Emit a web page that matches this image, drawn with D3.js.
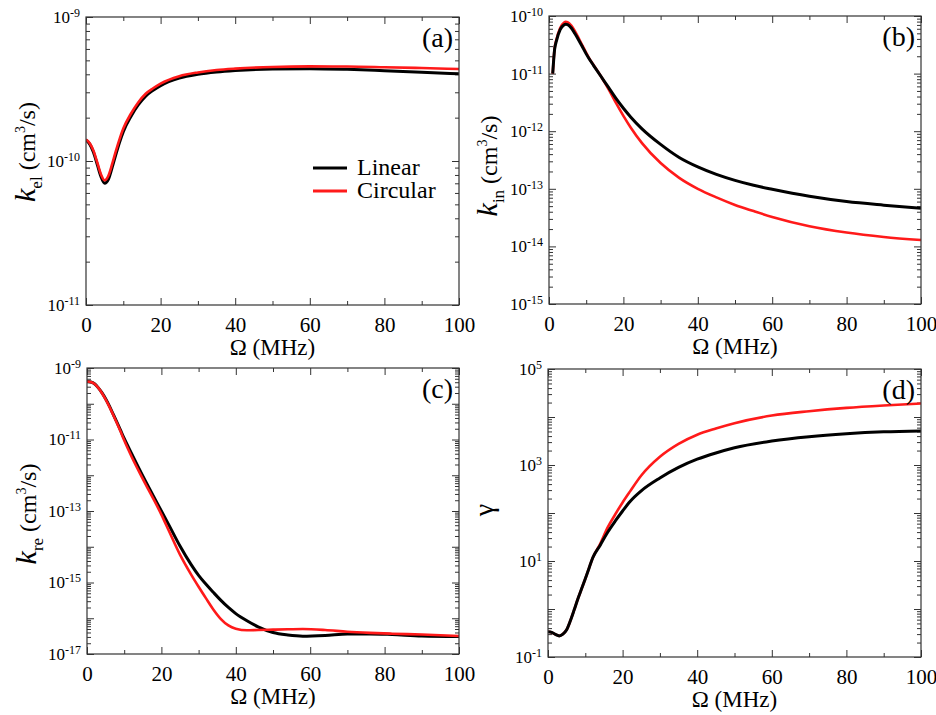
<!DOCTYPE html>
<html>
<head>
<meta charset="utf-8">
<script src="https://d3js.org/d3.v7.min.js"></script>
<style>
  body { margin: 0; background: #fff; }
  svg { font-family: "Liberation Serif", "Times New Roman", serif; }
  .tick line { stroke: #333; }
</style>
</head>
<body>
<div id="chart"></div>
<script>
// ---- data ----
var xTicks = [0, 20, 40, 60, 80, 100];
var xMinor = [10, 30, 50, 70, 90];

// (a) elastic rate
var omegaA = [0,1,2,3,4,5,6,7,8,9,10,12,14,16,18,20,25,30,35,40,50,60,70,80,90,100];
var kelLinear = [1.40e-10,1.31e-10,1.15e-10,0.95e-10,0.78e-10,0.70e-10,0.745e-10,0.90e-10,1.11e-10,1.35e-10,1.60e-10,2.03e-10,2.45e-10,2.82e-10,3.10e-10,3.34e-10,3.76e-10,4.00e-10,4.15e-10,4.25e-10,4.36e-10,4.38e-10,4.33e-10,4.24e-10,4.14e-10,4.03e-10];
var kelCircular = [1.41e-10,1.33e-10,1.18e-10,0.98e-10,0.81e-10,0.735e-10,0.79e-10,0.95e-10,1.17e-10,1.42e-10,1.68e-10,2.12e-10,2.55e-10,2.93e-10,3.20e-10,3.45e-10,3.88e-10,4.12e-10,4.28e-10,4.38e-10,4.50e-10,4.54e-10,4.53e-10,4.48e-10,4.42e-10,4.35e-10];

// (b) inelastic rate
var omegaB = [1,1.5,2,3,4,4.5,5,6,7,8,9,10,11,12,14,16,18,20,22,25,30,35,40,45,50,55,60,70,80,90,100];
var kinLinear = [1.0e-11,2.6e-11,3.7e-11,5.8e-11,7.0e-11,7.2e-11,7.1e-11,6.2e-11,4.9e-11,3.8e-11,2.9e-11,2.2e-11,1.72e-11,1.38e-11,8.9e-12,5.75e-12,3.7e-12,2.5e-12,1.75e-12,1.1e-12,5.9e-13,3.5e-13,2.4e-13,1.78e-13,1.40e-13,1.15e-13,9.8e-14,7.4e-14,6.0e-14,5.2e-14,4.6e-14];
var kinCircular = [1.0e-11,2.7e-11,3.9e-11,6.2e-11,7.6e-11,7.9e-11,7.8e-11,6.8e-11,5.4e-11,4.1e-11,3.05e-11,2.3e-11,1.75e-11,1.4e-11,8.9e-12,5.4e-12,3.1e-12,1.85e-12,1.15e-12,6.2e-13,2.8e-13,1.55e-13,1.0e-13,7.1e-14,5.25e-14,4.1e-14,3.24e-14,2.24e-14,1.74e-14,1.46e-14,1.29e-14];

// (c) reactive rate
var omegaC = [0,1,2,3,4,5,6,7,8,9,10,12,15,20,22,25,28,30,32,34,36,38,40,43,46,50,54,58,64,70,76,82,90,100];
var kreLinear = [4.2e-10,4.07e-10,3.63e-10,2.82e-10,2.04e-10,1.38e-10,8.7e-11,5.2e-11,3.1e-11,1.82e-11,1.07e-11,4.0e-12,9.5e-13,1.0e-13,4.1e-14,1.05e-14,3.16e-15,1.58e-15,8.9e-16,5.25e-16,3.16e-16,2.0e-16,1.35e-16,8.5e-17,5.75e-17,3.98e-17,3.4e-17,3.16e-17,3.3e-17,3.6e-17,3.65e-17,3.5e-17,3.2e-17,3.1e-17];
var kreCircular = [4.2e-10,4.07e-10,3.63e-10,2.82e-10,2.0e-10,1.32e-10,8.3e-11,5.0e-11,2.95e-11,1.7e-11,9.5e-12,3.3e-12,7.9e-13,7.9e-14,2.8e-14,6.0e-15,1.66e-15,7.6e-16,3.6e-16,1.74e-16,9.5e-17,6.3e-17,5.1e-17,4.6e-17,4.7e-17,4.8e-17,4.9e-17,5.0e-17,4.7e-17,4.2e-17,3.9e-17,3.7e-17,3.5e-17,3.2e-17];

// (d) gamma
var omegaD = [0,1,2,3,4,5,6,7,8,9,10,11,12,14,16,18,20,22,25,30,35,40,45,50,60,70,80,90,100];
var gammaLinear = [0.337,0.325,0.295,0.275,0.30,0.37,0.57,0.95,1.62,2.63,4.27,7.1,11.7,21.4,39.8,67.6,110,174,290,537,891,1320,1780,2290,3160,3890,4470,4900,5130];
var gammaCircular = [0.337,0.325,0.295,0.275,0.30,0.37,0.57,0.95,1.62,2.63,4.27,7.1,11.7,22.9,50,93,166,282,603,1480,2750,4270,5750,7410,10700,13200,15500,17400,19100];

var panels = [
  {tag: "(a)", box: [86, 17, 459, 305], dom: [1e-11, 1e-9], labels: [-11, -10, -9],
   title: ["k", "el"], titleX: 35, titleY: 152,
   series: [[omegaA, kelLinear, "black"], [omegaA, kelCircular, "red"]], legend: true},
  {tag: "(b)", box: [549, 16, 921, 304], dom: [1e-15, 1e-10], labels: [-15, -14, -13, -12, -11, -10],
   title: ["k", "in"], titleX: 497, titleY: 166,
   series: [[omegaB, kinCircular, "red"], [omegaB, kinLinear, "black"]]},
  {tag: "(c)", box: [87, 368, 459, 654], dom: [1e-17, 1e-9], labels: [-17, -15, -13, -11, -9],
   title: ["k", "re"], titleX: 36, titleY: 514,
   series: [[omegaC, kreLinear, "black"], [omegaC, kreCircular, "red"]]},
  {tag: "(d)", box: [548, 369, 921, 657], dom: [1e-1, 1e5], labels: [-1, 1, 3, 5],
   title: null, titleX: 493, titleY: 510,
   series: [[omegaD, gammaCircular, "red"], [omegaD, gammaLinear, "black"]]}
];

var svg = d3.select("#chart").append("svg")
  .attr("width", 936).attr("height", 715);

panels.forEach(function(p, pi) {
  var L = p.box[0], T = p.box[1], R = p.box[2], B = p.box[3];
  var x = d3.scaleLinear().domain([0, 100]).range([L, R]);
  var y = d3.scaleLog().domain(p.dom).range([B, T]);

  var e0 = Math.round(Math.log10(p.dom[0])), e1 = Math.round(Math.log10(p.dom[1]));
  var decades = d3.range(e0, e1 + 1).map(function(e) { return Math.pow(10, e); });
  var minor = [];
  for (var e = e0; e < e1; e++) for (var m = 2; m <= 9; m++) minor.push(m * Math.pow(10, e));

  var g = svg.append("g");

  g.append("clipPath").attr("id", "clip" + pi).append("rect")
    .attr("x", L).attr("y", T).attr("width", R - L).attr("height", B - T);

  // x axes (bottom labelled, top ticks only)
  var xb = g.append("g").attr("transform", "translate(0," + B + ")")
    .call(d3.axisBottom(x).tickValues(xTicks).tickSizeInner(-7).tickSizeOuter(0).tickPadding(12));
  xb.attr("font-family", null).attr("font-size", null);
  xb.selectAll("text").attr("font-size", "21px").attr("fill", "#000");
  g.append("g").attr("transform", "translate(0," + B + ")")
    .call(d3.axisBottom(x).tickValues(xMinor).tickSizeInner(-4).tickSizeOuter(0).tickFormat(""));
  g.append("g").attr("transform", "translate(0," + T + ")")
    .call(d3.axisTop(x).tickValues(xTicks).tickSizeInner(-7).tickSizeOuter(0).tickFormat(""));
  g.append("g").attr("transform", "translate(0," + T + ")")
    .call(d3.axisTop(x).tickValues(xMinor).tickSizeInner(-4).tickSizeOuter(0).tickFormat(""));

  // y axes
  var yl = g.append("g").attr("transform", "translate(" + L + ",0)")
    .call(d3.axisLeft(y).tickValues(decades).tickSizeInner(-7).tickSizeOuter(0).tickPadding(6));
  yl.attr("font-family", null).attr("font-size", null);
  yl.selectAll(".tick text").each(function(d) {
    var ex = Math.round(Math.log10(d));
    var t = d3.select(this).text(null).attr("font-size", "17px").attr("fill", "#000");
    if (p.labels.indexOf(ex) < 0) return;
    t.append("tspan").text("10");
    t.append("tspan").attr("dy", "-0.5em").attr("font-size", "12px").text(ex);
  });
  g.append("g").attr("transform", "translate(" + L + ",0)")
    .call(d3.axisLeft(y).tickValues(minor).tickSizeInner(-4).tickSizeOuter(0).tickFormat(""));
  g.append("g").attr("transform", "translate(" + R + ",0)")
    .call(d3.axisRight(y).tickValues(decades).tickSizeInner(-7).tickSizeOuter(0).tickFormat(""));
  g.append("g").attr("transform", "translate(" + R + ",0)")
    .call(d3.axisRight(y).tickValues(minor).tickSizeInner(-4).tickSizeOuter(0).tickFormat(""));
  g.selectAll(".domain").remove();

  // curves
  var line = d3.line()
    .x(function(d) { return x(d[0]); })
    .y(function(d) { return y(d[1]); })
    .curve(d3.curveMonotoneX);
  p.series.forEach(function(s) {
    var pts = s[0].map(function(o, i) { return [o, s[1][i]]; });
    g.append("path").datum(pts)
      .attr("clip-path", "url(#clip" + pi + ")")
      .attr("fill", "none")
      .attr("stroke", s[2] == "red" ? "#ff1a1a" : "#000")
      .attr("stroke-width", s[2] == "red" ? 2.6 : 3)
      .attr("stroke-linejoin", "round")
      .attr("d", line);
  });

  // frame
  g.append("rect").attr("x", L).attr("y", T).attr("width", R - L).attr("height", B - T)
    .attr("fill", "none").attr("stroke", "#333").attr("stroke-width", 1.2);

  // panel tag
  g.append("text").attr("x", R - 6).attr("y", T + 30)
    .attr("text-anchor", "end").attr("font-size", "28px").text(p.tag);

  // x title
  g.append("text").attr("x", (L + R) / 2).attr("y", B + 50)
    .attr("text-anchor", "middle").attr("font-size", "23px").text("Ω (MHz)");

  // y title
  var yt = g.append("text")
    .attr("transform", "translate(" + p.titleX + "," + p.titleY + ") rotate(-90)")
    .attr("text-anchor", "middle").attr("font-size", "24px");
  if (p.title) {
    yt.append("tspan").attr("font-style", "italic").attr("font-size", "30px").text(p.title[0]);
    yt.append("tspan").attr("font-size", "17px").attr("dy", 7).text(p.title[1]);
    yt.append("tspan").attr("dy", -7).text(" (cm");
    yt.append("tspan").attr("font-size", "14px").attr("dy", -10).text("3");
    yt.append("tspan").attr("dy", 10).text("/s)");
  } else {
    yt.attr("font-size", "28px").text("γ");
  }

  // legend
  if (p.legend) {
    var items = [["Linear", "black", 168], ["Circular", "red", 191]];
    items.forEach(function(it) {
      g.append("line").attr("x1", 313).attr("x2", 347).attr("y1", it[2]).attr("y2", it[2])
        .attr("stroke", it[1] == "red" ? "#ff1a1a" : "#000").attr("stroke-width", 3);
      g.append("text").attr("x", 357).attr("y", it[2] + 7)
        .attr("font-size", "24px").text(it[0]);
    });
  }
});
</script>
</body>
</html>
